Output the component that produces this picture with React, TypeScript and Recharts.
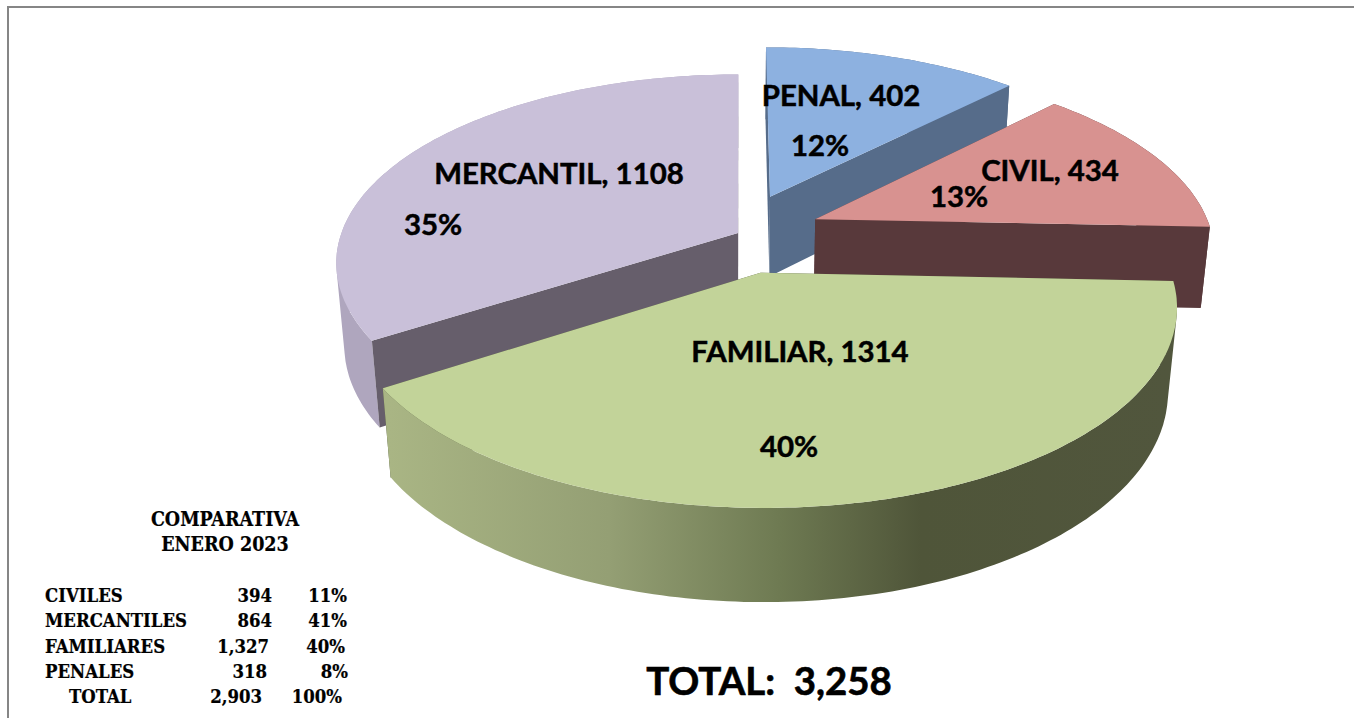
import { Pie, PieChart } from "recharts";

// pie slices, drawn back to front so FAMILIAR ends up on top
const categories = ["MERCANTIL", "PENAL", "CIVIL", "FAMILIAR"];
const values = [1108, 402, 434, 1314];
const percentLabels = ["35%", "12%", "13%", "40%"];
const totalLabel = "TOTAL:  3,258";

// small table at the bottom left
const tableTitle = ["COMPARATIVA", "ENERO  2023"];
const tableNames = ["CIVILES", "MERCANTILES", "FAMILIARES", "PENALES", "TOTAL"];
const tableCounts = ["394", "864", "1,327", "318", "2,903"];
const tablePercents = ["11%", "41%", "40%", "8%", "100%"];

const pieData = categories.map((name, i) => ({ name, value: values[i], pct: percentLabels[i] }));
const startAt = 90 + (values[0] / values.reduce((a, b) => a + b, 0)) * 360;

// look of each slice: face colours and how far it is pulled out of the pie
const sliceStyle: Record<string, any> = {
  MERCANTIL: { top: "#C9C0D9", side: "#665E6B", rim: "#AFA6BE", pull: [-0.005, 0.038] },
  PENAL: { top: "#8DB1E0", side: "#566C8A", rim: "#566C8A", pull: [0.078, 0.242] },
  CIVIL: { top: "#D89290", side: "#58393B", rim: "#58393B", pull: [0.192, 0.114] },
  FAMILIAR: { top: "#C2D399", side: "#51563D", rim: "url(#familiarRim)", pull: [0.05, -0.171] },
};
const labelStyle: Record<string, any> = {
  MERCANTIL: { name: [559, 172], pct: [433, 223] },
  PENAL: { name: [841, 94], pct: [820, 144] },
  CIVIL: { name: [1050, 169], pct: [959, 195] },
  FAMILIAR: { name: [800, 350], pct: [789, 445] },
};

const Y_RATIO = 0.466;
const DEPTH = 0.21;
const TILT = 0.16;
const SHRINK = 0.02;

// unit disc point (X right, Y back, Z down) to the screen
const project = (cx: number, cy: number, r: number, X: number, Y: number, Z: number) => {
  const s = 1 / (1 + TILT * Y + SHRINK * Z);
  return [cx + r * X * s, cy - r * Y_RATIO * Y * s + r * DEPTH * Z * s];
};

const toPath = (pts: number[][]) =>
  "M" + pts.map((p) => p[0].toFixed(1) + "," + p[1].toFixed(1)).join("L") + "Z";

// rim as one quad per step, all wound the same way, so the fold at the pie's edge stays filled
const rimPath = (top: number[][], bottom: number[][]) => {
  let d = "";
  for (let i = 0; i < top.length - 1; i++) {
    const quad = [top[i], top[i + 1], bottom[i + 1], bottom[i]];
    let area = 0;
    quad.forEach((p, k) => {
      const q = quad[(k + 1) % 4];
      area += p[0] * q[1] - q[0] * p[1];
    });
    d += toPath(area < 0 ? [...quad].reverse() : quad);
  }
  return d;
};

const Slice3D = (props: any) => {
  const { cx, cy, outerRadius: r, startAngle, endAngle, name } = props;
  const st = sliceStyle[name ?? props.payload?.name];
  const [ox, oy] = st.pull;
  const from = 90 - startAngle;
  const to = 90 - endAngle;
  const rim = (Z: number) => {
    const pts = [];
    for (let a = from; a < to; a += 1) {
      const t = (a * Math.PI) / 180;
      pts.push(project(cx, cy, r, ox + Math.sin(t), oy + Math.cos(t), Z));
    }
    const t = (to * Math.PI) / 180;
    pts.push(project(cx, cy, r, ox + Math.sin(t), oy + Math.cos(t), Z));
    return pts;
  };
  const top = rim(0);
  const bottom = rim(1);
  const apex0 = project(cx, cy, r, ox, oy, 0);
  const apex1 = project(cx, cy, r, ox, oy, 1);
  const last = top.length - 1;
  const mid = (((from + to) / 2) * Math.PI) / 180;
  const rimFace = <path d={rimPath(top, bottom)} fill={st.rim} />;
  const cutFaces = (
    <>
      <path d={toPath([apex0, top[0], bottom[0], apex1])} fill={st.side} />
      <path d={toPath([apex0, top[last], bottom[last], apex1])} fill={st.side} />
    </>
  );
  // a slice facing the viewer shows its rim over the cut faces, the others the reverse
  const facesFront = Math.cos(mid) < 0;
  return (
    <g>
      <defs>
        <linearGradient id="familiarRim" gradientUnits="userSpaceOnUse" x1={390} y1={0} x2={1170} y2={0}>
          <stop offset="0" stopColor="#A9B584" />
          <stop offset="0.28" stopColor="#949F74" />
          <stop offset="0.5" stopColor="#6E7A52" />
          <stop offset="0.68" stopColor="#4F5539" />
          <stop offset="1" stopColor="#51563D" />
        </linearGradient>
      </defs>
      {facesFront ? cutFaces : rimFace}
      {facesFront ? rimFace : cutFaces}
      <path d={toPath([apex0, ...top])} fill={st.top} />
    </g>
  );
};

const SliceLabel = (props: any) => {
  const name = props.name ?? props.payload?.name;
  const pos = labelStyle[name];
  const txt = {
    fontFamily: "Lato, sans-serif",
    fontWeight: 700,
    fontSize: 29.4,
    fill: "#000",
    stroke: "#000",
    strokeWidth: 0.5,
    textAnchor: "middle" as const,
    dominantBaseline: "central" as const,
  };
  return (
    <g>
      <text x={pos.name[0]} y={pos.name[1]} {...txt}>{`${name}, ${props.value}`}</text>
      <text x={pos.pct[0]} y={pos.pct[1]} {...txt}>{props.payload?.pct ?? props.pct}</text>
    </g>
  );
};

const countRight = [272, 272, 269, 267, 262];
const percentRight = [347, 347, 345, 348, 342];
const rowY = [602, 627, 653, 678, 703];

const App = () => {
  return (
    <div style={{ position: "absolute", left: 0, top: 0, width: 1354, height: 718, overflow: "hidden", background: "#fff" }}>
      <div style={{ position: "absolute", left: 7, top: 6, width: 1347, height: 712, borderTop: "2px solid #868686", borderLeft: "2px solid #868686" }} />
      <div style={{ position: "absolute", left: 0, top: 0 }}>
        <PieChart width={1354} height={718} margin={{ top: 0, right: 0, bottom: 0, left: 0 }}>
          <Pie
            data={pieData}
            dataKey="value"
            nameKey="name"
            cx={740}
            cy={240}
            outerRadius={399}
            startAngle={startAt}
            endAngle={startAt - 360}
            stroke="none"
            shape={Slice3D}
            label={SliceLabel}
            labelLine={false}
            isAnimationActive={false}
          />
        </PieChart>
      </div>
      <svg width={1354} height={718} style={{ position: "absolute", left: 0, top: 0 }}>
        <text x={769} y={680} textAnchor="middle" dominantBaseline="central" fontFamily="Lato, sans-serif" fontWeight={700} fontSize={38.4} stroke="#000" strokeWidth={0.6} style={{ whiteSpace: "pre" }}>
          {totalLabel}
        </text>
        <g fontFamily="'DejaVu Serif Condensed', 'DejaVu Serif', serif" fontWeight={700} fill="#000" stroke="#000" strokeWidth={0.2} style={{ whiteSpace: "pre" }}>
          <text x={225} y={526} textAnchor="middle" fontSize={19.5}>{tableTitle[0]}</text>
          <text x={225} y={551} textAnchor="middle" fontSize={19.5}>{tableTitle[1]}</text>
          {tableNames.map((n, i) => (
            <g key={n} fontSize={18.4}>
              <text x={i === 4 ? 69 : 45} y={rowY[i]}>{n}</text>
              <text x={countRight[i]} y={rowY[i]} textAnchor="end">{tableCounts[i]}</text>
              <text x={percentRight[i]} y={rowY[i]} textAnchor="end">{tablePercents[i]}</text>
            </g>
          ))}
        </g>
      </svg>
    </div>
  );
};

export default App;
